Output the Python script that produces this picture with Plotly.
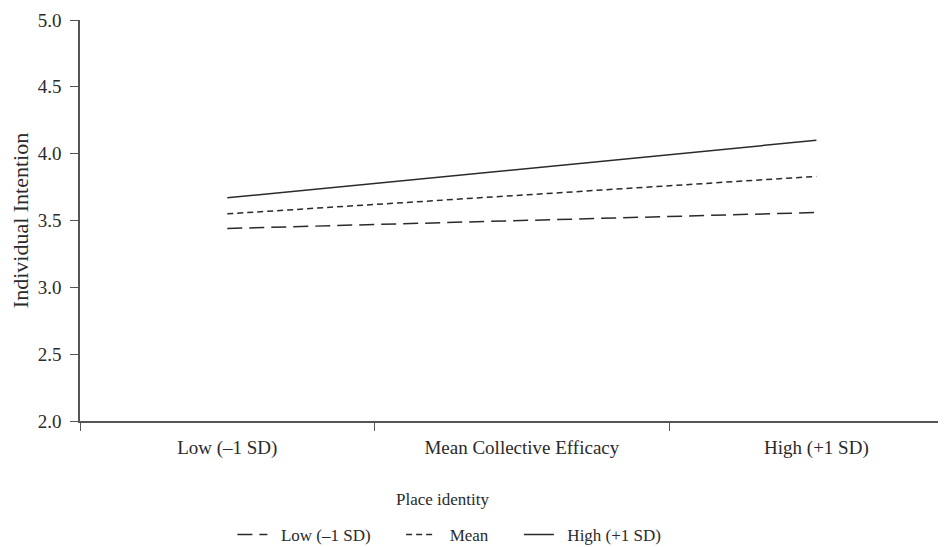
import plotly.graph_objects as go

categories = ["Low (–1 SD)", "Mean Collective Efficacy", "High (+1 SD)"]
line_x = ["Low (–1 SD)", "High (+1 SD)"]
series_names = ["Low (–1 SD)", "Mean", "High (+1 SD)"]
low_vals = [3.44, 3.56]
mean_vals = [3.55, 3.83]
high_vals = [3.67, 4.10]
y_ticks = [2.0, 2.5, 3.0, 3.5, 4.0, 4.5, 5.0]

FONT = "Liberation Serif"
INK = "#2a2a2a"
NB = "\u00a0"

fig = go.Figure()
styles = [("15px,7px", low_vals), ("6px,4px", mean_vals), ("solid", high_vals)]
for name, (dash, vals) in zip(series_names, styles):
    fig.add_trace(go.Scatter(
        x=line_x, y=vals, mode="lines", name=NB * 2 + name + NB * 6,
        line=dict(color=INK, width=1.5, dash=dash),
    ))

# page has an 8px body margin; size the figure so it fills the 946x547 window
fig.update_layout(
    width=938, height=539,
    margin=dict(l=72, r=0, t=12, b=126, autoexpand=False),
    paper_bgcolor="white", plot_bgcolor="white",
    font=dict(family=FONT, size=19, color=INK),
    showlegend=True,
    legend=dict(orientation="h", x=0.176, xanchor="left", y=-0.284, yanchor="middle",
                font=dict(family=FONT, size=17, color=INK), traceorder="normal",
                itemwidth=30),
    annotations=[dict(text="Place identity", x=0.419, xref="paper", y=-0.195, yref="paper",
                      xanchor="center", yanchor="middle", showarrow=False,
                      font=dict(family=FONT, size=17, color=INK))],
)
fig.update_xaxes(
    type="category", categoryorder="array", categoryarray=categories,
    range=[-0.5, 2.44], tickson="boundaries", ticks="outside", ticklen=8,
    tickcolor="#555", showline=True, linecolor="#555", linewidth=1.5,
    showgrid=False, zeroline=False, tickfont=dict(size=19),
    automargin=False, ticklabelstandoff=8,
)
fig.update_yaxes(
    range=[2.0, 5.0], tickvals=y_ticks, ticktext=[f"{v:.1f}" for v in y_ticks],
    ticks="outside", ticklen=8, tickcolor="#555", showline=True, linecolor="#555",
    linewidth=1.5, showgrid=False, zeroline=False, tickfont=dict(size=19),
    automargin=False, ticklabelstandoff=5,
    title=dict(text="Individual Intention", font=dict(size=22), standoff=6),
)
fig.write_html("out.html")
